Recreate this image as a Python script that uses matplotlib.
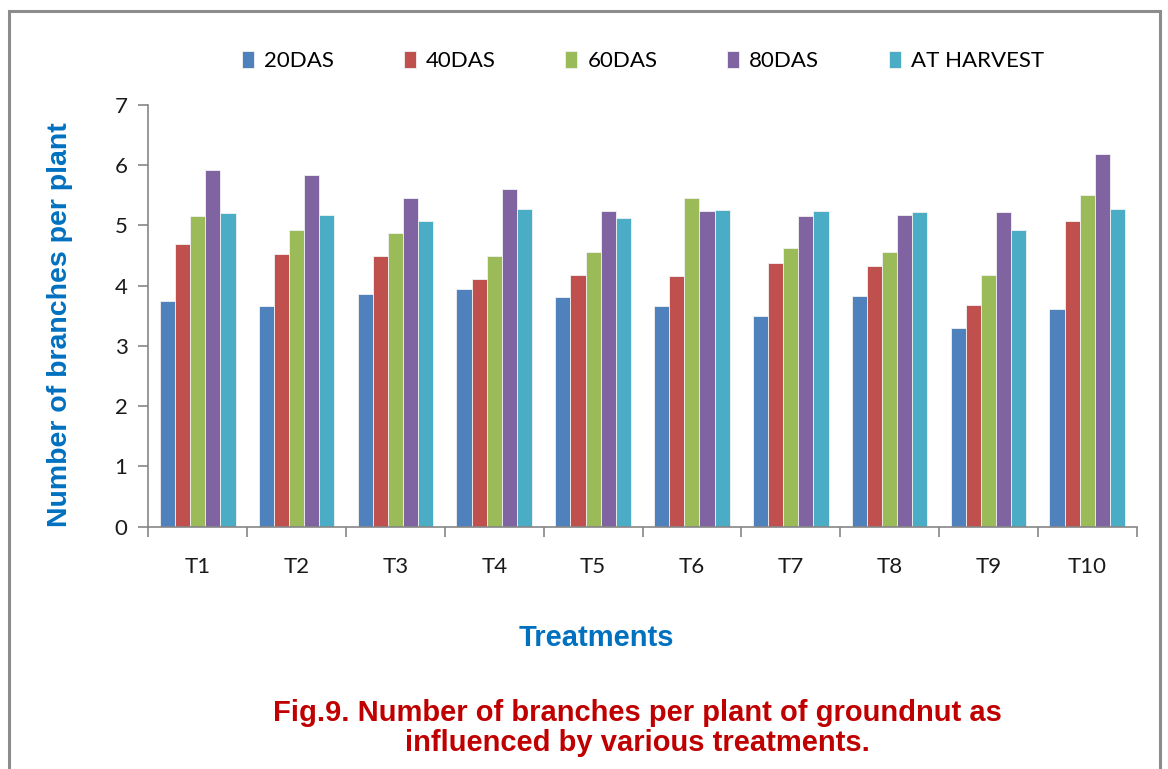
import matplotlib
matplotlib.use("Agg")
import matplotlib.pyplot as plt
from matplotlib.patches import Rectangle
import numpy as np

treatments = ["T1", "T2", "T3", "T4", "T5", "T6", "T7", "T8", "T9", "T10"]
das20 = [3.75, 3.67, 3.87, 3.94, 3.81, 3.67, 3.49, 3.83, 3.30, 3.62]
das40 = [4.69, 4.52, 4.49, 4.11, 4.17, 4.16, 4.37, 4.32, 3.68, 5.07]
das60 = [5.16, 4.92, 4.88, 4.49, 4.56, 5.46, 4.62, 4.56, 4.17, 5.50]
das80 = [5.92, 5.84, 5.46, 5.61, 5.24, 5.24, 5.16, 5.18, 5.22, 6.18]
harvest = [5.20, 5.18, 5.07, 5.28, 5.13, 5.26, 5.24, 5.22, 4.92, 5.28]
series_names = ["20DAS", "40DAS", "60DAS", "80DAS", "AT HARVEST"]
colors = ["#4F81BD", "#C0504D", "#9BBB59", "#8064A2", "#4BACC6"]
y_ticks = [0, 1, 2, 3, 4, 5, 6, 7]
title_lines = ["Fig.9. Number of branches per plant of groundnut as",
               "influenced by various treatments."]

W, H = 1168, 769
fig = plt.figure(figsize=(W / 100, H / 100), dpi=100)
fig.patch.set_facecolor("white")

# outer chart frame
fig.patches.append(Rectangle((9 / W, -0.05), (1160 - 9) / W, 1.05 - 11 / H,
                             transform=fig.transFigure, fill=False,
                             edgecolor="#8C8C8C", linewidth=2.2))

ax = fig.add_axes([148.3 / W, 1 - 526.7 / H, (1136.7 - 148.3) / W, (526.7 - 105) / H])

x = np.arange(len(treatments))
bw = 0.153
all_series = [das20, das40, das60, das80, harvest]
for i, (vals, c, name) in enumerate(zip(all_series, colors, series_names)):
    ax.bar(x + (i - 2) * bw, vals, width=bw, color=c, edgecolor="#F2F2F2",
           linewidth=0.6, label=name, zorder=2)

ax.set_xlim(-0.5, len(treatments) - 0.5)
ax.set_ylim(0, 7)
ax.set_yticks(y_ticks)
ax.set_xticks(x)
ax.set_xticklabels(treatments)
ax.set_xticks(np.arange(-0.5, len(treatments), 1.0), minor=True)

for s in ["top", "right"]:
    ax.spines[s].set_visible(False)
for s in ["left", "bottom"]:
    ax.spines[s].set_color("#868686")
    ax.spines[s].set_linewidth(1.2)

tick_font = ["Lato", "DejaVu Sans"]
bold_font = ["Liberation Sans", "DejaVu Sans"]
ax.tick_params(axis="y", direction="out", length=7, width=1.2, color="#868686",
               labelsize=16, pad=8)
ax.tick_params(axis="x", which="major", length=0, labelsize=16, pad=22)
ax.tick_params(axis="x", which="minor", direction="out", length=7, width=1.2,
               color="#868686")
for lab in ax.get_xticklabels() + ax.get_yticklabels():
    lab.set_family(tick_font)
    lab.set_color("#1A1A1A")

fig.text(60 / W, 1 - 325 / H, "Number of branches per plant", rotation=90,
         ha="center", va="center", fontsize=20.5, fontweight="bold",
         color="#0070C0", family=bold_font)
fig.text(596 / W, 1 - 638 / H, "Treatments", ha="center", va="center",
         fontsize=21, fontweight="bold", color="#0070C0", family=bold_font)
for line, yp in zip(title_lines, [713, 743]):
    fig.text(637 / W, 1 - yp / H, line, ha="center", va="center",
             fontsize=21, fontweight="bold", color="#C00000", family=bold_font)

handles, labels = ax.get_legend_handles_labels()
leg = fig.legend(handles, labels, loc="center", bbox_to_anchor=(643 / W, 1 - 61 / H),
                 ncol=5, frameon=False, handlelength=0.55,
                 handleheight=0.85, handletextpad=0.45, columnspacing=3.13,
                 prop={"family": tick_font, "size": 16})

fig.savefig("out.png", dpi=100, facecolor="white")
